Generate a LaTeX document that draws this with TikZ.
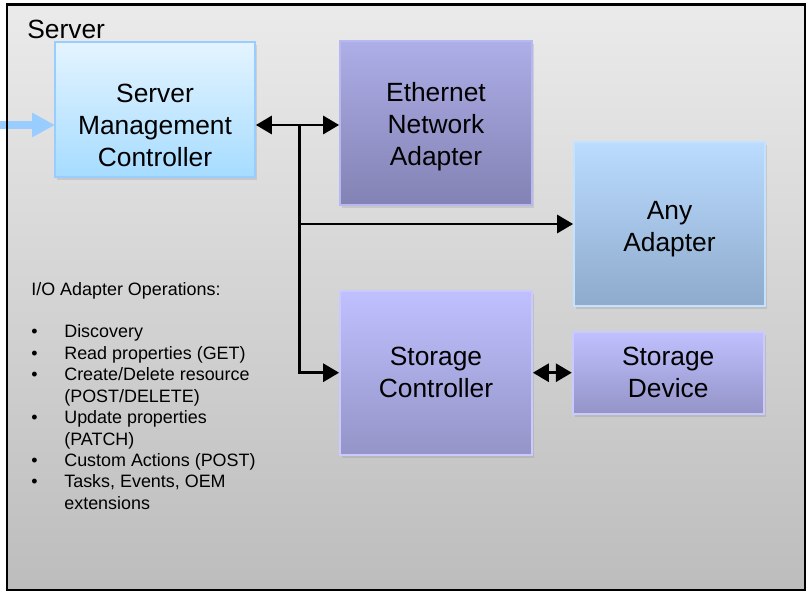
\documentclass[tikz,border=0pt]{standalone}
\usepackage{fontspec}
\setmainfont{Liberation Sans}
\usepackage{xcolor}
\usetikzlibrary{arrows.meta, positioning, shadows}

\definecolor{smctop}{HTML}{E4F4FF}
\definecolor{smcbot}{HTML}{A6DCFF}
\definecolor{smcline}{HTML}{99CCFF}
\definecolor{ethtop}{HTML}{AEAEE8}
\definecolor{ethbot}{HTML}{8282B4}
\definecolor{ethline}{HTML}{B8B8F0}
\definecolor{anytop}{HTML}{BBDCFF}
\definecolor{anybot}{HTML}{8EAACC}
\definecolor{anyline}{HTML}{C4E2FF}
\definecolor{stotop}{HTML}{C0C0FF}
\definecolor{stobot}{HTML}{9494C8}
\definecolor{stoline}{HTML}{CACAFF}

\begin{document}
\begin{tikzpicture}[
  x=0.02cm, y=-0.02cm,
  boxfont/.style={align=center, font=\fontsize{15}{18.2}\selectfont},
  box/.style={rectangle, draw, line width=1pt, minimum width=3.84cm, minimum height=3.28cm, boxfont, drop shadow={shadow xshift=0.04cm, shadow yshift=-0.06cm, opacity=0.22}},
  smcbox/.style={box, minimum width=4cm, minimum height=2.7cm, top color=smctop, bottom color=smcbot, draw=smcline},
  ethbox/.style={box, top color=ethtop, bottom color=ethbot, draw=ethline},
  anybox/.style={box, minimum width=3.82cm, top color=anytop, bottom color=anybot, draw=anyline},
  stobox/.style={box, top color=stotop, bottom color=stobot, draw=stoline},
  wire/.style={draw, line width=1.7pt, -{Triangle[length=3.2mm, width=3.6mm]}},
  biwire/.style={draw, line width=1.7pt, {Triangle[length=3.2mm, width=3.6mm]}-{Triangle[length=3.2mm, width=3.6mm]}},
  mgmtarrow/.style={draw=smcline, line width=4.5pt, -{Triangle[length=4.6mm, width=4.6mm]}}
  ]

\useasboundingbox (0,0) rectangle (808,592);

% Server enclosure
\shade[top color=black!8, bottom color=black!26] (7,4.5) rectangle (805,590);
\coordinate (mgmt) at (0,125);
\draw[mgmtarrow] (mgmt) -- (55,125);
\draw[line width=1.2pt] (7,4.5) rectangle (805,590);
\node[anchor=base west, inner sep=0, font=\fontsize{15}{18}\selectfont] (server) at (27,38.5) {Server};

% Nodes
\node[smcbox] (smc) at (155,109.5) {};
\node[boxfont] (smctext) at ([yshift=-0.31cm]smc.center) {Server\\Management\\Controller};
\node[ethbox] (eth) at (436,123) {};
\node[boxfont] (ethtext) at ([yshift=-0.08cm]eth.center) {Ethernet\\Network\\Adapter};
\node[anybox] (any) at (669.5,224) {};
\node[boxfont] (anytext) at ([yshift=-0.1cm]any.center) {Any\\Adapter};
\node[stobox, below=1.68cm of eth] (sc) {Storage\\Controller};
\node[stobox, minimum width=3.82cm, minimum height=1.64cm, right=0.78cm of sc] (sd) {Storage\\Device};

% Edges
\coordinate (smcport) at ([yshift=-0.31cm]smc.east);
\coordinate (bus) at ([xshift=0.88cm]smcport);
\path[biwire] (smcport) -- (smcport -| eth.west);
\path[wire] (bus) |- (sc.west);
\path[wire] (bus |- any.west) -- (any.west);
\path[biwire] (sc.east) -- (sd.west);

% Operations list
\node[anchor=base west, inner sep=0, align=left, font=\fontsize{10.2}{12.2}\selectfont] (ops) at (31,295) {%
  \begin{tabular}[t]{@{}p{0.66cm}@{}l@{}}
  \multicolumn{2}{@{}l@{}}{I/O Adapter Operations:}\\
  & \\
  \textbullet & Discovery\\
  \textbullet & Read properties (GET)\\
  \textbullet & Create/Delete resource\\
  & (POST/DELETE)\\
  \textbullet & Update properties\\
  & (PATCH)\\
  \textbullet & Custom Actions (POST)\\
  \textbullet & Tasks, Events, OEM\\
  & extensions
  \end{tabular}};

\end{tikzpicture}
\end{document}
